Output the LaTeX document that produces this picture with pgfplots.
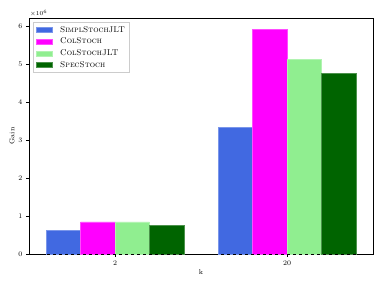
\documentclass[border=0pt]{standalone}
\usepackage{pgfplots}
\pgfplotsset{compat=1.18}
\definecolor{royalblue}{RGB}{65,105,225}
\definecolor{lgreen}{RGB}{144,238,144}
\definecolor{dgreen}{RGB}{0,100,0}
\definecolor{mag}{RGB}{255,0,255}
\begin{document}
\begin{tikzpicture}
\useasboundingbox (-29pt,-33pt) rectangle (353pt,254pt);
\begin{axis}[
  ybar, bar shift=0pt, bar width=0.2,
  at={(0pt,0pt)}, anchor=south west,
  scale only axis, width=344pt, height=236pt,
  xmin=-0.5, xmax=1.5, ymin=0, ymax=6.23,
  xtick={0,1}, xticklabels={2,20},
  ytick={0,1,2,3,4,5,6},
  tick align=outside, tick pos=left,
  major tick length=3pt,
  tick style={black, line width=0.5pt},
  axis line style={line width=0.6pt},
  ticklabel style={font=\fontsize{7}{8}\selectfont},
  xlabel={k}, ylabel={Gain},
  label style={font=\fontsize{7}{8}\selectfont},
  xlabel style={yshift=3pt}, ylabel style={yshift=-3pt},
  legend style={font=\fontsize{8.4}{10}\selectfont, draw=black!20, at={(0.012,0.982)}, anchor=north west,
    row sep=2.2pt, inner xsep=3pt, inner ysep=3pt,
    nodes={inner xsep=1.5pt, inner ysep=1pt, text height=5.8pt, text depth=1.6pt}},
  legend cell align=left,
  every axis plot/.append style={legend image code/.code={\fill[##1, sharp corners] (0pt,-2.5pt) rectangle (16pt,2.5pt);}},
  clip=false,
]
\addplot[fill=royalblue, draw=royalblue!70!white] coordinates {(-0.3,0.63) (0.7,3.35)};
\addlegendentry{\hspace{6pt}\textsc{SimplStochJLT}}
\addplot[fill=mag, draw=mag!70!white] coordinates {(-0.1,0.845) (0.9,5.93)};
\addlegendentry{\hspace{6pt}\textsc{ColStoch}}
\addplot[fill=lgreen, draw=lgreen!70!white] coordinates {(0.1,0.845) (1.1,5.14)};
\addlegendentry{\hspace{6pt}\textsc{ColStochJLT}}
\addplot[fill=dgreen, draw=dgreen!70!white] coordinates {(0.3,0.765) (1.3,4.77)};
\addlegendentry{\hspace{6pt}\textsc{SpecStoch}}
\addplot[sharp plot, black, dashed, line width=0.8pt, forget plot] coordinates {(-0.5,0) (1.5,0)};
\node[anchor=south west, inner sep=1pt, font=\fontsize{6}{7}\selectfont] at (rel axis cs:0,1) {$\times10^{6}$};
\end{axis}
\end{tikzpicture}
\end{document}
